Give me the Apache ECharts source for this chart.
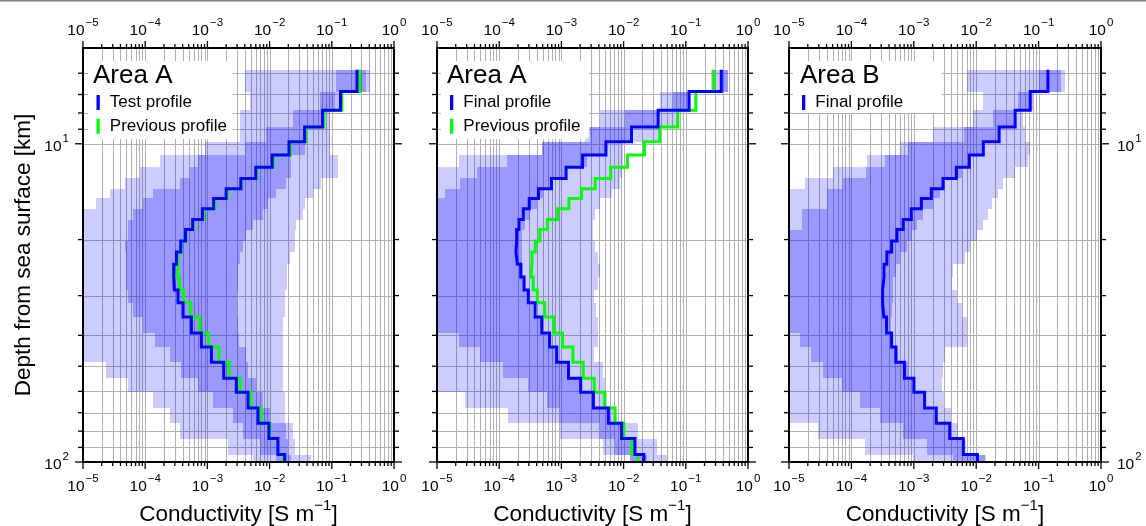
<!DOCTYPE html>
<html>
<head>
<meta charset="utf-8">
<title>Conductivity profiles</title>
<script src="https://cdn.jsdelivr.net/npm/echarts@6/dist/echarts.min.js"></script>
<style>
html, body { margin: 0; padding: 0; background: #ffffff; }
#chart { width: 1146px; height: 526px; }
</style>
</head>
<body>
<div id="chart"></div>
<script>
// ================= DATA =================
// Layer tops (km); the last layer continues below the 100 km axis limit.
const layerTops = [5.85, 6.85, 7.85, 8.85, 9.85, 10.85, 11.85, 12.85, 13.85, 14.85,
  16.0, 17.3, 18.6, 20.2, 21.9, 23.9, 26.2, 28.8, 31.6, 35.0,
  39.3, 43.5, 48.6, 54.6, 60.4, 67.7, 75.6, 84.4, 94.8];
const lastLayerBottom = 100;

// Conductivity per layer (S/m)
const previousProfile = [0.28, 0.145, 0.0745, 0.038, 0.0216, 0.0115, 0.0062, 0.0035, 0.0021, 0.00132,
  0.00087, 0.0006, 0.00045, 0.00038, 0.000336, 0.000323, 0.000353, 0.00041, 0.00054, 0.000746,
  0.00104, 0.00153, 0.00224, 0.00337, 0.00496, 0.0073, 0.0101, 0.0135, 0.0168];
const testProfileA = [0.254, 0.138, 0.071, 0.0365, 0.0205, 0.011, 0.006, 0.00345, 0.002, 0.00126,
  0.00083, 0.00058, 0.000445, 0.000372, 0.000318, 0.000287, 0.000294, 0.000337, 0.000406, 0.000553,
  0.0008, 0.00116, 0.00183, 0.00292, 0.0045, 0.00652, 0.00977, 0.0136, 0.0175];
const finalProfileA = [0.372, 0.113, 0.0359, 0.0134, 0.0052, 0.00219, 0.00119, 0.000692, 0.000427, 0.000304,
  0.000244, 0.000208, 0.000191, 0.000186, 0.000196, 0.000222, 0.000251, 0.000294, 0.000377, 0.000482,
  0.000646, 0.000843, 0.0013, 0.00204, 0.00327, 0.00569, 0.00929, 0.0152, 0.0212];
const finalProfileB = [0.141, 0.0733, 0.0421, 0.0233, 0.013, 0.00776, 0.00481, 0.00294, 0.00191, 0.00132,
  0.000912, 0.000676, 0.000537, 0.000441, 0.00037, 0.000333, 0.000316, 0.000316, 0.000331, 0.000366,
  0.000441, 0.000516, 0.000708, 0.001005, 0.00149, 0.00229, 0.00376, 0.00622, 0.01045];

// Uncertainty bands (outer = light, inner = dark), per layer
const testOuterLo = [3.98e-3, 4.79e-3, 3.31e-3, 3.31e-3, 9.06e-4, 1.71e-4, 8.2e-5, 4.68e-5, 2.69e-5, 1.64e-5,
  1e-5, 1e-5, 1e-5, 1e-5, 1e-5, 1e-5, 1e-5, 1e-5, 1e-5, 1e-5,
  1e-5, 1e-5, 2.38e-5, 5.28e-5, 1.32e-4, 2.48e-4, 3.59e-4, 2.12e-3, 5.35e-3];
const testOuterHi = [0.418, 0.111, 0.0925, 0.0925, 0.0925, 0.124, 0.126, 0.068, 0.0499, 0.0366,
  0.0344, 0.027, 0.0253, 0.0253, 0.021, 0.019, 0.019, 0.0175, 0.0175, 0.0164,
  0.0164, 0.0164, 0.0164, 0.0164, 0.0175, 0.0175, 0.0235, 0.0253, 0.047];
const testInnerLo = [0.1156, 0.0638, 0.0238, 0.0089, 0.00398, 7.06e-4, 5.19e-4, 3.59e-4, 1.33e-4, 9.22e-5,
  6.37e-5, 5.28e-5, 5.28e-5, 4.68e-5, 4.85e-5, 4.85e-5, 4.85e-5, 5.24e-5, 6.37e-5, 9.22e-5,
  1.42e-4, 2.48e-4, 3.82e-4, 7.06e-4, 1.22e-3, 2.55e-3, 3.73e-3, 6.93e-3, 0.0129];
const testInnerHi = [0.36, 0.151, 0.0769, 0.0391, 0.0366, 0.0224, 0.0224, 0.0186, 0.0129, 0.00942,
  0.00783, 0.00541, 0.00424, 0.00373, 0.0033, 0.0031, 0.0031, 0.00299, 0.00299, 0.00307,
  0.00322, 0.00424, 0.0045, 0.00614, 0.00775, 0.01, 0.0186, 0.0195, 0.0224];

const finalAOuterLo = [0.252, 0.0383, 0.00417, 0.0024, 4.84e-4, 2.22e-5, 1e-5, 1e-5, 1e-5, 1e-5,
  1e-5, 1e-5, 1e-5, 1e-5, 1e-5, 1e-5, 1e-5, 1e-5, 1e-5, 1e-5,
  1e-5, 1e-5, 1e-5, 1e-5, 2.85e-5, 1.39e-4, 9.5e-4, 4.66e-3, 0.0126];
const finalAOuterHi = [0.476, 0.116, 0.0708, 0.0383, 0.00975, 0.00987, 0.00929, 0.00873, 0.00643, 0.00417,
  0.00347, 0.00322, 0.00322, 0.00347, 0.00387, 0.00417, 0.00387, 0.00334, 0.0036, 0.00392,
  0.00392, 0.00334, 0.00466, 0.00501, 0.0054, 0.00724, 0.0171, 0.0339, 0.049];
const finalAInnerLo = [0.351, 0.0625, 0.0105, 0.00288, 4.84e-4, 1.33e-4, 4.39e-5, 2.37e-5, 1.36e-5, 1e-5,
  1e-5, 1e-5, 1e-5, 1e-5, 1e-5, 1e-5, 1e-5, 1e-5, 1e-5, 1e-5,
  2.22e-5, 4.95e-5, 1.16e-4, 2.92e-4, 5.89e-4, 9.5e-4, 4.17e-3, 7.24e-3, 0.0126];
const finalAInnerHi = [0.476, 0.116, 0.0359, 0.0126, 5.33e-3, 2.55e-3, 1.22e-3, 7.43e-4, 5.13e-4, 4.02e-4,
  3.14e-4, 2.61e-4, 2.31e-4, 2.31e-4, 2.34e-4, 2.43e-4, 2.61e-4, 2.95e-4, 3.55e-4, 4.54e-4,
  6.58e-4, 8.51e-4, 1.23e-3, 1.99e-3, 3.22e-3, 5.6e-3, 9.4e-3, 0.0152, 0.0237];

const finalBOuterLo = [7.05e-3, 1.27e-2, 8.99e-3, 2.05e-3, 6.0e-4, 1.75e-4, 5.1e-5, 1.79e-5, 1e-5, 1e-5,
  1e-5, 1e-5, 1e-5, 1e-5, 1e-5, 1e-5, 1e-5, 1e-5, 1e-5, 1e-5,
  1e-5, 1e-5, 1e-5, 1e-5, 1e-5, 1e-5, 2.9e-5, 1.64e-4, 9.8e-4];
const finalBOuterHi = [0.267, 0.078, 0.0571, 0.0608, 0.0733, 0.068, 0.042, 0.027, 0.0224, 0.0178,
  0.0155, 0.0129, 0.0102, 0.00796, 0.00662, 0.0043, 0.00405, 0.00488, 0.00586, 0.00705,
  0.00705, 0.00322, 0.00297, 0.00283, 0.00305, 0.00394, 0.00512, 0.00687, 0.0144];
const finalBInnerLo = [0.103, 0.0475, 0.0188, 0.00638, 8.15e-4, 3.44e-4, 1.71e-4, 7.36e-5, 4.03e-5, 4.03e-5,
  1.6e-5, 1.6e-5, 1e-5, 1e-5, 1e-5, 1e-5, 1e-5, 1e-5, 1e-5, 1e-5,
  1.49e-5, 2.29e-5, 3.48e-5, 7.02e-5, 1.36e-4, 2.86e-4, 6.7e-4, 1.61e-3, 4.3e-3];
const finalBInnerHi = [0.228, 0.0809, 0.0421, 0.0242, 0.013, 0.00748, 0.00593, 0.00316, 0.00263, 0.00203,
  0.0014, 0.00112, 0.000933, 0.000776, 0.0006, 0.000516, 0.000462, 0.000462, 0.000446, 0.00043,
  0.00043, 0.000556, 0.000805, 0.00098, 0.00151, 0.00233, 0.0038, 0.00622, 0.0139];

// Axes / ticks
const X_MIN = 1e-5, X_MAX = 1, Y_MIN = 5, Y_MAX = 100;
const xMajorTicks = [1e-5, 1e-4, 1e-3, 1e-2, 1e-1, 1];
const xTickExponents = ['\u22125', '\u22124', '\u22123', '\u22122', '\u22121', '0'];
const xMinorMultipliers = [2, 3, 4, 5, 6, 7, 8, 9];
const yMajorTicks = [10, 100];
const yTickExponents = ['1', '2'];
const yMinorTicks = [6, 7, 8, 9, 20, 30, 40, 50, 60, 70, 80, 90];

const panelTitles = ['Area A', 'Area A', 'Area B'];
const xAxisName = 'Conductivity [S m';
const xAxisNameExp = '\u22121';
const yAxisName = 'Depth from sea surface [km]';

// ================= BUILD =================
const FONT = '"Liberation Sans", Arial, Helvetica, sans-serif';
const BLUE = '#0000ff', GREEN = '#00ff00';
const OUTER = 'rgba(0,0,255,0.2)', INNER = 'rgba(0,0,255,0.25)';

const layerBottoms = layerTops.slice(1).concat([lastLayerBottom]);
const xMinorTicks = [];
xMajorTicks.slice(0, -1).forEach(d => xMinorMultipliers.forEach(m => xMinorTicks.push(m * d)));

function stepPoints(values) {
  const pts = [];
  values.forEach((v, i) => { pts.push([v, layerTops[i]]); pts.push([v, layerBottoms[i]]); });
  return pts;
}
function bandData(lo, hi) {
  return lo.map((l, i) => [l, layerTops[i], hi[i], layerBottoms[i]]);
}

const gridData = []
  .concat(xMinorTicks.concat(xMajorTicks).map(v => [v, Y_MIN, 0]))
  .concat(yMinorTicks.concat(yMajorTicks).map(d => [X_MIN, d, 1]));
const tickData = []
  .concat(xMajorTicks.map(v => [v, Y_MIN, 0]))
  .concat(xMinorTicks.map(v => [v, Y_MIN, 1]))
  .concat(yMajorTicks.map(d => [X_MIN, d, 2]))
  .concat(yMinorTicks.map(d => [X_MIN, d, 3]));

function gridRender(params, api) {
  const st = { stroke: '#b0b0b0', lineWidth: 1 };
  if (api.value(2) === 0) {
    const a = api.coord([api.value(0), Y_MIN]), b = api.coord([api.value(0), Y_MAX]);
    const x = Math.round(a[0]) + 0.5;
    return { type: 'line', shape: { x1: x, y1: a[1], x2: x, y2: b[1] }, style: st };
  }
  const a = api.coord([X_MIN, api.value(1)]), b = api.coord([X_MAX, api.value(1)]);
  const y = Math.round(a[1]) + 0.5;
  return { type: 'line', shape: { x1: a[0], y1: y, x2: b[0], y2: y }, style: st };
}
function bandRender(color) {
  return function (params, api) {
    const p1 = api.coord([api.value(0), api.value(1)]);
    const p2 = api.coord([api.value(2), api.value(3)]);
    const x1 = Math.round(Math.min(p1[0], p2[0])), x2 = Math.round(Math.max(p1[0], p2[0]));
    const y1 = Math.round(Math.min(p1[1], p2[1])), y2 = Math.round(Math.max(p1[1], p2[1]));
    return { type: 'rect', shape: { x: x1, y: y1, width: x2 - x1, height: y2 - y1 }, style: { fill: color } };
  };
}
function tickRender(params, api) {
  const kind = api.value(2);
  const st = { stroke: '#000', lineWidth: 1.3 };
  if (kind <= 1) {
    const len = kind === 0 ? 7 : 4;
    const t = api.coord([api.value(0), Y_MIN]), b = api.coord([api.value(0), Y_MAX]);
    return { type: 'group', children: [
      { type: 'line', shape: { x1: t[0], y1: t[1], x2: t[0], y2: t[1] - len }, style: st },
      { type: 'line', shape: { x1: b[0], y1: b[1], x2: b[0], y2: b[1] + len }, style: st }
    ] };
  }
  const len = kind === 2 ? 8 : 5;
  const l = api.coord([X_MIN, api.value(1)]), r = api.coord([X_MAX, api.value(1)]);
  return { type: 'group', children: [
    { type: 'line', shape: { x1: l[0], y1: l[1], x2: l[0] - len, y2: l[1] }, style: st },
    { type: 'line', shape: { x1: r[0], y1: r[1], x2: r[0] + len, y2: r[1] }, style: st }
  ] };
}

const supRich = {
  b: { fontFamily: FONT, fontSize: 15.5, color: '#000', lineHeight: 22, verticalAlign: 'bottom' },
  s: { fontFamily: FONT, fontSize: 11.5, color: '#000', lineHeight: 14, verticalAlign: 'top', padding: [0, 0, 0, 1] }
};
function xLabel(v) {
  const lv = Math.log10(v);
  const i = xMajorTicks.findIndex(t => Math.abs(Math.log10(t) - lv) < 1e-6);
  return i < 0 ? '' : '{b|10}{s|' + xTickExponents[i] + '}';
}
function yLabel(v) {
  const lv = Math.log10(v);
  const i = yMajorTicks.findIndex(t => Math.abs(Math.log10(t) - lv) < 1e-6);
  return i < 0 ? '' : '{b|10}{s|' + yTickExponents[i] + '}';
}

const gridBoxes = [{ left: 83, width: 311 }, { left: 437, width: 311 }, { left: 789, width: 312 }];
const GRID_TOP = 48, GRID_HEIGHT = 414;

const panels = [
  { lines: [['Previous profile', previousProfile, GREEN], ['Test profile', testProfileA, BLUE]],
    bands: [testOuterLo, testOuterHi, testInnerLo, testInnerHi] },
  { lines: [['Previous profile', previousProfile, GREEN], ['Final profile', finalProfileA, BLUE]],
    bands: [finalAOuterLo, finalAOuterHi, finalAInnerLo, finalAInnerHi] },
  { lines: [['Final profile', finalProfileB, BLUE]],
    bands: [finalBOuterLo, finalBOuterHi, finalBInnerLo, finalBInnerHi] }
];

const grids = [], xAxes = [], yAxes = [], series = [];
gridBoxes.forEach((g, gi) => {
  grids.push({ left: g.left, width: g.width, top: GRID_TOP, height: GRID_HEIGHT,
    containLabel: false, outerBoundsMode: 'none', show: false });
  const axisLine = { show: true, onZero: false, lineStyle: { color: '#000', width: 2 } };
  const xc = { gridIndex: gi, type: 'log', logBase: 10, min: X_MIN, max: X_MAX, z: 10,
    axisLine, axisTick: { show: false }, splitLine: { show: false },
    minorTick: { show: false }, minorSplitLine: { show: false } };
  xAxes.push(Object.assign({}, xc, {
    position: 'bottom',
    axisLabel: { formatter: xLabel, margin: 11, rich: supRich },
    name: '{n|' + xAxisName + '}{s|' + xAxisNameExp + '}{n|]}',
    nameLocation: 'middle', nameGap: 36, nameMoveOverlap: false,
    nameTextStyle: { fontFamily: FONT, fontSize: 22.5, color: '#000',
      rich: {
        n: { fontFamily: FONT, fontSize: 22.5, color: '#000', lineHeight: 28, verticalAlign: 'bottom' },
        s: { fontFamily: FONT, fontSize: 15, color: '#000', lineHeight: 9, verticalAlign: 'top' }
      } }
  }));
  xAxes.push(Object.assign({}, xc, {
    position: 'top',
    axisLabel: { formatter: xLabel, margin: 9, rich: supRich }
  }));
  const yc = { gridIndex: gi, type: 'log', logBase: 10, min: Y_MIN, max: Y_MAX, inverse: true, z: 10,
    axisLine, axisTick: { show: false }, splitLine: { show: false },
    minorTick: { show: false }, minorSplitLine: { show: false } };
  yAxes.push(Object.assign({}, yc, {
    position: 'left',
    axisLabel: { show: gi === 0, formatter: yLabel, margin: 14, rich: supRich },
    name: gi === 0 ? yAxisName : '', nameLocation: 'middle', nameGap: 45, nameMoveOverlap: false,
    nameTextStyle: { fontFamily: FONT, fontSize: 22.5, color: '#000', lineHeight: 28 }
  }));
  yAxes.push(Object.assign({}, yc, {
    position: 'right',
    axisLabel: { show: gi === 2, formatter: yLabel, margin: 16, rich: supRich }
  }));

  const xi = 2 * gi, yi = 2 * gi;
  const p = panels[gi];
  series.push({ type: 'custom', name: '_grid' + gi, xAxisIndex: xi, yAxisIndex: yi, z: 1, silent: true,
    clip: true, encode: { x: 0, y: 1 }, data: gridData, renderItem: gridRender });
  series.push({ type: 'custom', name: '_outer' + gi, xAxisIndex: xi, yAxisIndex: yi, z: 2, silent: true,
    clip: true, encode: { x: [0, 2], y: [1, 3] }, data: bandData(p.bands[0], p.bands[1]), renderItem: bandRender(OUTER) });
  series.push({ type: 'custom', name: '_inner' + gi, xAxisIndex: xi, yAxisIndex: yi, z: 2, silent: true,
    clip: true, encode: { x: [0, 2], y: [1, 3] }, data: bandData(p.bands[2], p.bands[3]), renderItem: bandRender(INNER) });
  p.lines.forEach(([name, vals, color], li) => {
    series.push({ type: 'line', name, xAxisIndex: xi, yAxisIndex: yi, z: 5 + li, silent: true,
      data: stepPoints(vals), showSymbol: false, symbol: 'none', clip: true,
      lineStyle: { color, width: 3, join: 'miter', cap: 'butt' }, itemStyle: { color } });
  });
  series.push({ type: 'custom', name: '_ticks' + gi, xAxisIndex: xi, yAxisIndex: yi, z: 11, silent: true,
    clip: false, encode: { x: 0, y: 1 }, data: tickData, renderItem: tickRender });
});

const legendLefts = [96.5, 450, 802];
const legendItems = [
  [['Test profile', BLUE], ['Previous profile', GREEN]],
  [['Final profile', BLUE], ['Previous profile', GREEN]],
  [['Final profile', BLUE]]
];
const legends = legendItems.map((items, i) => ({
  left: legendLefts[i], top: 94, orient: 'vertical', padding: 0, itemGap: 6.8,
  icon: 'rect', itemWidth: 3.3, itemHeight: 15, selectedMode: false, z: 20,
  textStyle: { fontFamily: FONT, fontSize: 17, color: '#000', lineHeight: 16, padding: [0, 0, 0, 5] },
  data: items.map(([name, color]) => ({ name, itemStyle: { color } }))
}));

const titleLefts = [93, 447, 800];
const titles = panelTitles.map((t, i) => ({
  text: t, left: titleLefts[i], top: 61, padding: 0, z: 20,
  textStyle: { fontFamily: FONT, fontSize: 26, fontWeight: 'normal', color: '#000', lineHeight: 30 }
}));

const legendBoxes = [
  { x: 88, y: 61, w: 145, h: 78 },
  { x: 441, y: 61, w: 148, h: 78 },
  { x: 793, y: 61, w: 149, h: 52 }
];

const chart = echarts.init(document.getElementById('chart'), null, { renderer: 'canvas' });
chart.setOption({
  animation: false,
  backgroundColor: '#ffffff',
  textStyle: { fontFamily: FONT },
  title: titles,
  legend: legends,
  grid: grids,
  xAxis: xAxes,
  yAxis: yAxes,
  series,
  graphic: { elements: [
    { type: 'rect', silent: true, z: 30, shape: { x: 0, y: 0, width: 1146, height: 1.5 }, style: { fill: '#7f7f7f' } }
  ].concat(legendBoxes.map(b => ({ type: 'rect', silent: true, z: 4,
      shape: { x: b.x, y: b.y, width: b.w, height: b.h, r: 4 }, style: { fill: '#ffffff' } }))) }
});
</script>
</body>
</html>
